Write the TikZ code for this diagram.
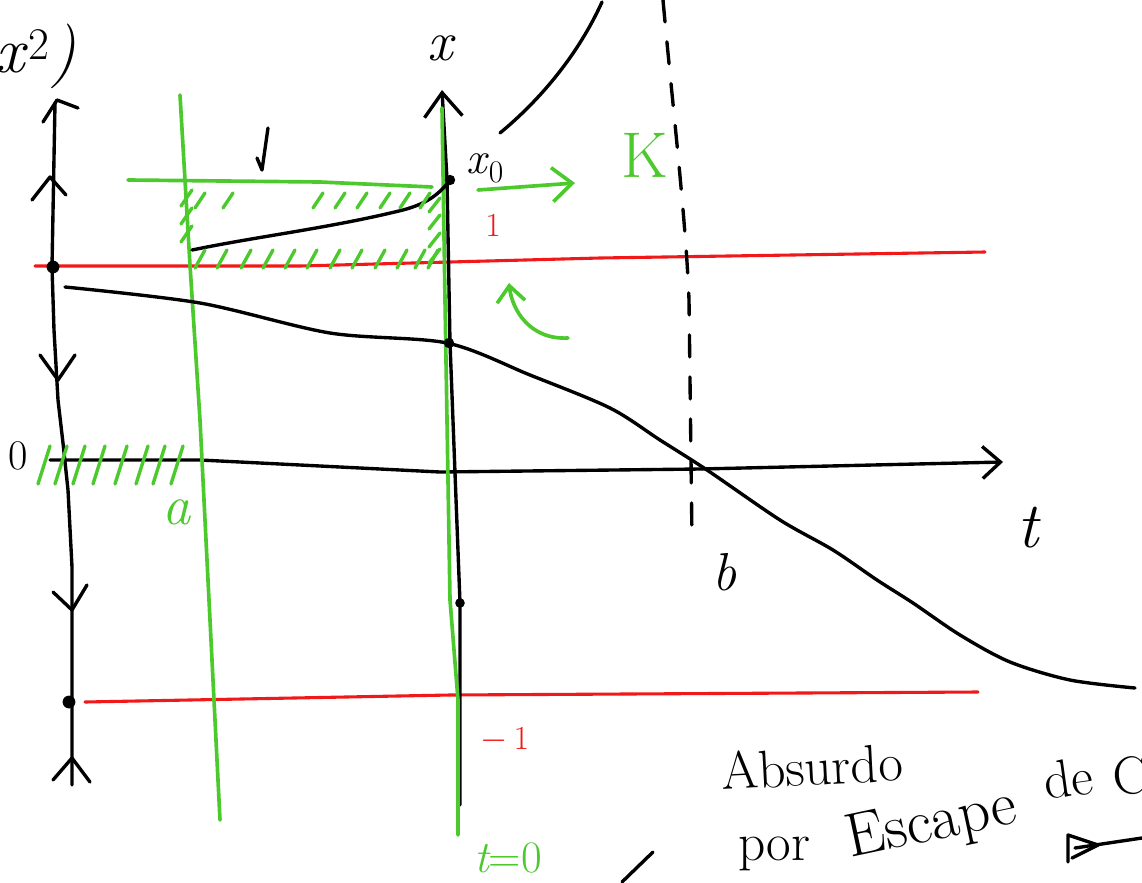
\documentclass[tikz,border=0pt]{standalone}
\usepackage{fontspec}
\usetikzlibrary{arrows.meta}
\definecolor{pen}{HTML}{4CC92C}
\definecolor{redpen}{HTML}{F01818}
\begin{document}
\begin{tikzpicture}[x=0.025cm,y=-0.025cm,line cap=round,line join=round,
  ink/.style={draw=black,line width=2.4pt},
  grn/.style={draw=pen,line width=2.6pt},
  rd/.style={draw=redpen,line width=2.2pt},
  hatch/.style={draw=pen,line width=2.4pt},
  dotk/.style={fill=black,circle,inner sep=0pt,minimum size=0.32cm},
  bigbarb/.style={-{Straight Barb[length=0.6cm,width=0.95cm,line width=2.4pt]}},
  smallbarb/.style={-{Straight Barb[length=0.45cm,width=0.8cm,line width=2.4pt]}},
  lbl/.style={inner sep=0pt}]
\useasboundingbox (0,0) rectangle (1142,882);

% red levels
\draw[rd] (35,266) -- (300,266) -- (600,258) -- (985,252);
\draw[rd] (85,702) -- (450,695) -- (978,692);

% left phase line
\draw[ink] (72,785) -- (72,700) -- (72,567) -- (68,490) -- (63,443) -- (58,400) -- (54,330) -- (52,267) -- (55,103);
\draw[ink] (43,122) -- (57,100) -- (78,108);
\draw[ink] (32,200) -- (50,177) -- (66,195);
\draw[ink] (40,355) -- (58,380) -- (75,355);
\draw[ink] (53,592) -- (72,610) -- (87,585);
\draw[ink] (53,780) -- (72,758) -- (90,782);
\node[dotk] (p1) at (53,267) {};
\node[dotk] (m1) at (69,702) {};

% t axis
\draw[ink,smallbarb] (50,460) -- (200,460) -- (440,472) -- (700,469) -- (1003,462);

% x axis
\draw[ink,bigbarb] (460,805) -- (460,603) -- (450,343) -- (447,180) -- (442,90);
\draw[grn] (442,108) -- (445,300) -- (450,600) -- (458,700) -- (458,835);

% green vertical a
\draw[grn] (180,95) -- (190,265) -- (200,420) -- (220,820);

% dashed b
\draw[ink,dash pattern=on 0.55cm off 0.5cm] (663,0) .. controls (672,100) and (686,220) .. (689,300) -- (692,540);

% blow-up branch
\draw[ink] (500,133) .. controls (540,100) and (578,55) .. (602,2);

% solution through x0
\draw[ink] (192,250) .. controls (260,236) and (330,228) .. (403,210)
  .. controls (425,204) and (438,196) .. (450,180);
\node[dotk,minimum size=0.26cm] (x0) at (450,180) {};

% decreasing solution
\draw[ink] plot[smooth,tension=0.5] coordinates {(65,287) (200,303) (330,333) (447,343) (530,375) (610,408) (660,440) (707,470) (780,520) (833,550) (877,580) (913,603) (960,635) (1010,662) (1070,680) (1135,688)};
\node[dotk,minimum size=0.26cm] (q) at (449,343) {};
\node[dotk,minimum size=0.24cm] (r) at (460,603) {};

% green box top line
\draw[grn] (128,180) -- (320,182) -- (432,187);

% hatches
\foreach \x in {200,228,318,340,362,385,405,425}
  \draw[hatch] (\x-5,208) -- (\x+5,193);
\foreach \x in {200,222,246,268,290,312,335,357,380,402,420,433}
  \draw[hatch] (\x-5,268) -- (\x+5,250);
\foreach \y in {198,216,234}
  \draw[hatch] (181,\y+8) -- (192,\y-8);
\foreach \y in {205,222,240,256}
  \draw[hatch] (429,\y+7) -- (440,\y-7);
\foreach \x in {45,62,80,100,122,143,160,178}
  \draw[hatch] (\x-7,484) -- (\x+5,446);

% green arrows
\draw[grn,-{Straight Barb[length=0.5cm,width=0.85cm,line width=2.6pt]}] (478,190) -- (575,183);
\draw[grn,-{Straight Barb[length=0.4cm,width=0.7cm,line width=2.6pt]}] (568,338) .. controls (530,340) and (512,310) .. (509,283);

% small marks
\draw[ink] (268,128) -- (262,170) -- (257,158);
\draw[ink] (653,852) -- (622,882);
\draw[ink] (1068,862) -- (1068,835) -- (1098,845) -- (1072,858);
\draw[ink] (1075,848) -- (1142,838);

% labels
\node[lbl] (fx) at (36,56) {\fontsize{46}{48}\selectfont\itshape x\/\textsuperscript{\upshape 2})};
\node[lbl] (zero) at (18,456) {\fontsize{30}{32}\selectfont 0};
\node[lbl] (xl) at (440,48) {\fontsize{40}{42}\selectfont\itshape x};
\node[lbl] (x0l) at (485,168) {\fontsize{32}{34}\selectfont\itshape x\/\textsubscript{\upshape 0}};
\node[lbl,text=pen] (Kl) at (645,155) {\fontsize{46}{48}\selectfont K};
\node[lbl,text=redpen] (one) at (493,225) {\fontsize{24}{26}\selectfont 1};
\node[lbl,text=redpen] (mone) at (505,740) {\fontsize{24}{26}\selectfont $-$\,1};
\node[lbl,text=pen] (al) at (177,512) {\fontsize{40}{42}\selectfont\itshape a};
\node[lbl] (bl) at (725,572) {\fontsize{38}{40}\selectfont\itshape b};
\node[lbl] (tl) at (1028,528) {\fontsize{46}{48}\selectfont\itshape t};
\node[lbl,text=pen] (t0) at (508,858) {\fontsize{32}{34}\selectfont\itshape t\upshape =0};
\node[lbl,anchor=base west,rotate=3] (abs) at (722,790) {\fontsize{38}{40}\selectfont Absurdo};
\node[lbl,anchor=base west] (por) at (738,860) {\fontsize{38}{40}\selectfont por};
\node[lbl,anchor=base west,rotate=12] (escape) at (850,858) {\fontsize{44}{46}\selectfont Escape};
\node[lbl,anchor=base west,rotate=8] (de) at (1046,800) {\fontsize{38}{40}\selectfont de};
\node[lbl,anchor=base west,rotate=5] (cc) at (1114,796) {\fontsize{38}{40}\selectfont C};
\end{tikzpicture}
\end{document}
